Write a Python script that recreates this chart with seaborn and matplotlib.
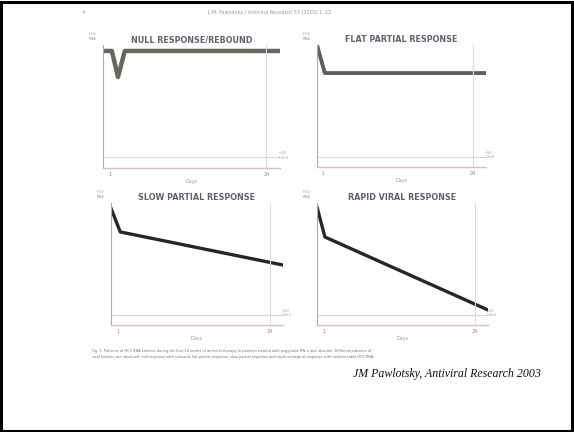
import matplotlib
matplotlib.use('agg')
import matplotlib.pyplot as plt
import seaborn as sns
import pandas as pd

# panel titles (scanned figure, text barely legible)
titles = ["NULL RESPONSE/REBOUND", "FLAT PARTIAL RESPONSE",
          "SLOW PARTIAL RESPONSE", "RAPID VIRAL RESPONSE"]

# HCV RNA level (log scale units) against days of treatment
days_null = [0, 1.3, 2.2, 3.2, 26]
load_null = [6.66, 6.66, 5.18, 6.66, 6.66]
days_flat = [0, 1.2, 26]
load_flat = [7.0, 5.39, 5.39]
days_slow = [0, 1.4, 26]
load_slow = [6.7, 5.34, 3.44]
days_rapid = [0, 1.2, 26]
load_rapid = [6.77, 5.05, 0.86]

x_ticks = [1, 24]
x_tick_labels = ["1", "24"]
detection_limit = 0.6

header = "J.-M. Pawlotsky / Antiviral Research 57 (2003) 1\u201322"
caption = ["Fig. 3. Patterns of HCV RNA kinetics during the first 24 weeks of antiviral therapy in patients treated with pegylated IFN-\u03b1 and ribavirin. Different patterns of",
           "viral kinetics are observed: null response with rebound, flat partial response, slow partial response and rapid virological response with undetectable HCV RNA."]
credit = "JM Pawlotsky, Antiviral Research 2003"

panels = [
    (titles[0], days_null, load_null, (103, 280, 45, 168), "#66675f", 3.2),
    (titles[1], days_flat, load_flat, (317, 486, 45, 167), "#5a5f5c", 2.8),
    (titles[2], days_slow, load_slow, (111, 283, 203, 325), "#262626", 2.4),
    (titles[3], days_rapid, load_rapid, (317, 488, 203, 325), "#262626", 2.4),
]

W, H = 574, 432
sns.set_style("white")
fig = plt.figure(figsize=(W / 100, H / 100), dpi=100)

for title, days, load, box, color, lw in panels:
    left, right, top, bottom = box
    ax = fig.add_axes([left / W, 1 - bottom / H, (right - left) / W, (bottom - top) / H])
    df = pd.DataFrame({"day": days, "load": load})
    sns.lineplot(data=df, x="day", y="load", ax=ax, color=color, lw=lw)
    ax.set_xlim(0, 26)
    ax.set_ylim(0, 7)
    ax.axhline(detection_limit, color="#d8d4e6", lw=0.8)
    ax.axvline(24, color="#dcdcdc", lw=0.8)
    for s in ["top", "right"]:
        ax.spines[s].set_visible(False)
    ax.spines["left"].set_color("#a8a8b8")
    ax.spines["left"].set_linewidth(0.8)
    ax.spines["bottom"].set_color("#e0b8c8")
    ax.spines["bottom"].set_linewidth(1.0)
    ax.set_xticks(x_ticks)
    ax.set_xticklabels(x_tick_labels, fontsize=3.5, color="#888888")
    ax.tick_params(axis="x", length=2, pad=1, color="#bbbbbb")
    ax.set_yticks([])
    ax.set_xlabel("Days", fontsize=3.5, color="#999999", labelpad=1)
    ax.set_ylabel("")
    ax.set_title(title, fontsize=5.8, color="#5d6270", fontweight="bold", pad=2)
    ax.text(-0.04, 1.07, "HCV\nRNA", transform=ax.transAxes, fontsize=2.6,
            color="#999999", ha="right", va="center")
    ax.text(0.99, 0.1, "<50\nIU/ml", transform=ax.transAxes, fontsize=2.6,
            color="#999999", ha="left", va="center")

fig.text(0.47, 0.972, header, fontsize=3.5, color="#9a9a9a", ha="center", va="center")
fig.text(0.145, 0.97, "4", fontsize=3.5, color="#9a9a9a", ha="center", va="center")
fig.text(0.16, 0.188, caption[0], fontsize=2.55, color="#6a7088", ha="left", va="center")
fig.text(0.16, 0.173, caption[1], fontsize=2.55, color="#6a7088", ha="left", va="center")
fig.text(0.942, 0.135, credit, fontsize=8.6, style="italic", family="Liberation Serif",
         color="#111111", ha="right", va="center")

# black frame around the slide
fig.patches.append(plt.Rectangle((0.002, 0.003), 0.995, 0.993, transform=fig.transFigure,
                                 fill=False, edgecolor="black", lw=2.2))

fig.savefig("out.png", dpi=100)
